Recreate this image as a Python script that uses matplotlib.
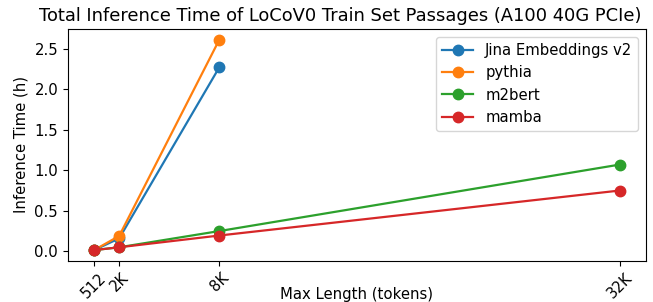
import matplotlib
matplotlib.use("Agg")
import matplotlib.pyplot as plt

x_vals = [512, 2048, 8192, 32768]
x_labels = ["512", "2K", "8K", "32K"]

jina = [0.015, 0.16, 2.27]
pythia = [0.015, 0.19, 2.61]
m2bert = [0.015, 0.05, 0.25, 1.07]
mamba = [0.015, 0.05, 0.195, 0.75]

plt.rcParams["font.size"] = 10.75

fig, ax = plt.subplots(figsize=(6.53, 3.02), dpi=100)
style = dict(marker="o", markersize=7.5, linewidth=1.6)
ax.plot(x_vals[:3], jina, label="Jina Embeddings v2", **style)
ax.plot(x_vals[:3], pythia, label="pythia", **style)
ax.plot(x_vals, m2bert, label="m2bert", **style)
ax.plot(x_vals, mamba, label="mamba", **style)

ax.set_xticks(x_vals)
ax.set_xticklabels(x_labels, rotation=45)
ax.set_xlabel("Max Length (tokens)")
ax.xaxis.set_label_coords(0.5, -0.114)
ax.set_ylabel("Inference Time (h)")
ax.set_title("Total Inference Time of LoCoV0 Train Set Passages (A100 40G PCIe)", x=0.4706)
ax.legend(loc="upper right", handlelength=2.1)

plt.subplots_adjust(left=0.104, right=0.989, top=0.903, bottom=0.137)
plt.savefig("out.png")
